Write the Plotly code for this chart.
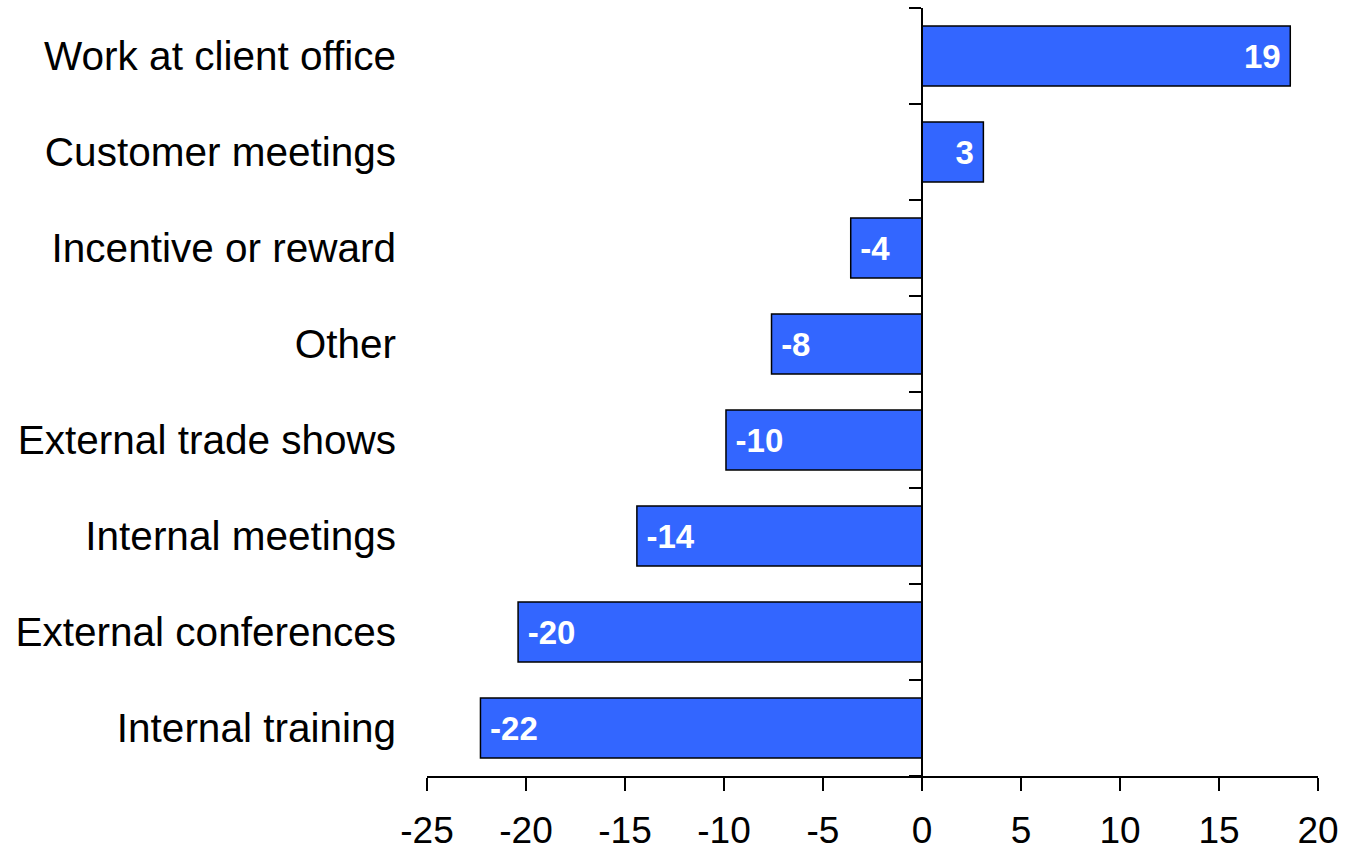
import plotly.graph_objects as go

categories = ["Work at client office", "Customer meetings", "Incentive or reward", "Other",
              "External trade shows", "Internal meetings", "External conferences", "Internal training"]
values = [18.6, 3.1, -3.6, -7.6, -9.9, -14.4, -20.4, -22.3]
x_ticks = [-25, -20, -15, -10, -5, 0, 5, 10, 15, 20]
x_tick_labels = ["-25", "-20", "-15", "-10", "-5", "0", "5", "10", "15", "20"]

FONT = "Liberation Sans, Arial, sans-serif"
pad = "\u2009"
texts = [(f"{round(v)}{pad}" if v >= 0 else f"{pad}{round(v)}") for v in values]

fig = go.Figure()
fig.add_trace(go.Bar(
    x=values, y=categories, orientation="h",
    marker=dict(color="#3366FF", line=dict(color="black", width=1.5)),
    text=texts, textposition="inside", insidetextanchor="end",
    textfont=dict(family=FONT, size=33, color="white", weight="bold"),
    textangle=0, showlegend=False, hoverinfo="skip",
))
fig.add_trace(go.Scatter(x=[None], y=[None], yaxis="y2", showlegend=False, hoverinfo="skip"))

fig.update_layout(
    width=1350, height=852,
    margin=dict(l=427, r=32, t=8, b=76),
    paper_bgcolor="white", plot_bgcolor="white",
    bargap=0.375,
    font=dict(family=FONT, color="black"),
    xaxis=dict(range=[-25, 20], tickvals=x_ticks, ticktext=x_tick_labels, ticks="outside",
               ticklen=13, tickwidth=1.5, automargin=False,
               tickcolor="black", showline=True, linecolor="black", linewidth=1.5,
               showgrid=False, zeroline=False, tickfont=dict(size=37, color="black"),
               ticklabelstandoff=8),
    yaxis=dict(categoryorder="array", categoryarray=categories, autorange="reversed",
               showline=False, ticks="", showgrid=False, zeroline=False, automargin=False,
               tickfont=dict(size=40.5, color="black"), ticklabelstandoff=30),
    yaxis2=dict(overlaying="y", anchor="free", position=25/45, range=[7.5, -0.5],
                tickvals=[-0.5 + i for i in range(9)], ticks="outside", ticklen=12, tickwidth=1.5,
                tickcolor="black", showticklabels=False, showline=True, linecolor="black",
                linewidth=1.5, showgrid=False, zeroline=False, automargin=False),
)

fig.write_html("out.html")
